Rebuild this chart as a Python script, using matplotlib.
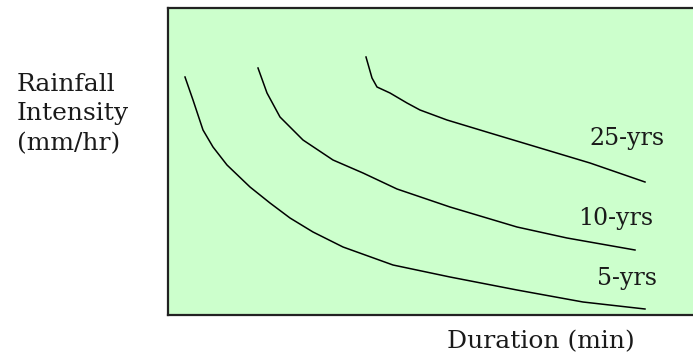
import matplotlib
matplotlib.use("Agg")
import matplotlib.pyplot as plt
import numpy as np

# curve points (x: duration, y: intensity, arbitrary units)
dur_5 = [17, 25, 35, 45, 59, 82, 102, 122, 145, 175, 225, 282, 349, 415, 477]
int_5 = [238, 215, 185, 168, 150, 128, 112, 97, 83, 68, 50, 38, 25, 13, 6]

dur_10 = [90, 99, 112, 135, 165, 195, 229, 282, 349, 399, 467]
int_10 = [247, 222, 198, 175, 155, 142, 126, 108, 88, 77, 65]

dur_25 = [198, 204, 209, 222, 239, 252, 279, 322, 372, 422, 477]
int_25 = [258, 237, 228, 222, 212, 205, 195, 182, 167, 152, 133]

curve_labels = ["5-yrs", "10-yrs", "25-yrs"]
label_x = [459, 448, 459]
label_y = [37, 97, 177]

fig = plt.figure(figsize=(6.93, 3.53), dpi=100)
ax = fig.add_axes([168 / 693, 38 / 353, (702 - 168) / 693, (315 - 8) / 353])
ax.set_facecolor("#ccffcc")

for xs, ys in [(dur_5, int_5), (dur_10, int_10), (dur_25, int_25)]:
    ax.plot(xs, ys, color="black", lw=1.1)

for lab, lx, ly in zip(curve_labels, label_x, label_y):
    ax.text(lx, ly, lab, ha="center", va="center", fontsize=17,
            family="DejaVu Serif", color="#1a1a1a")

ax.set_xlim(0, 534)
ax.set_ylim(0, 307)
ax.set_xticks([])
ax.set_yticks([])
for s in ax.spines.values():
    s.set_linewidth(1.6)
    s.set_color("#222222")

fig.text(17 / 693, 1 - 114 / 353, "Rainfall\nIntensity\n(mm/hr)", ha="left",
         va="center", fontsize=18, family="DejaVu Serif", linespacing=1.35,
         color="#1a1a1a")
fig.text(447 / 693, 1 - 342 / 353, "Duration (min)", ha="left", va="center",
         fontsize=18, family="DejaVu Serif", color="#1a1a1a")

fig.savefig("out.png", dpi=100)
